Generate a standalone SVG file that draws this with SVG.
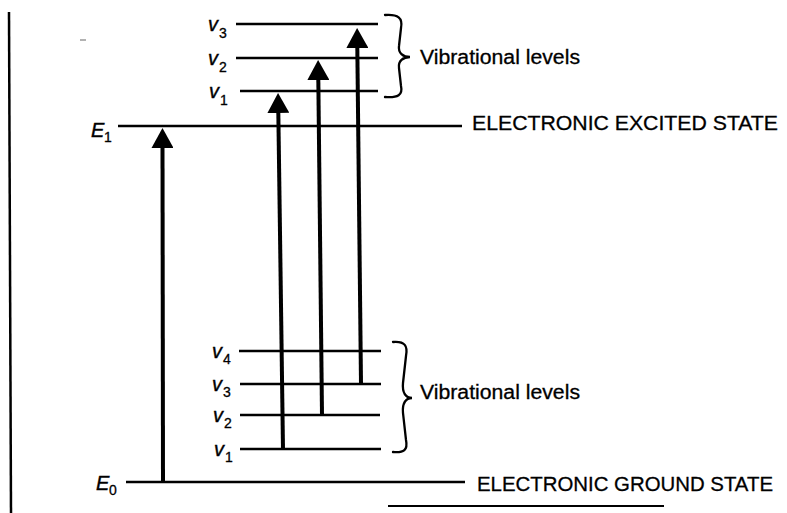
<svg xmlns="http://www.w3.org/2000/svg" width="787" height="513" viewBox="0 0 787 513">
<style>
.lvl{stroke:#000;stroke-width:2.4;fill:none}
.br{stroke:#000;stroke-width:2.3;fill:none;stroke-linecap:round}
.ar{stroke:#000;stroke-width:4;fill:none}
.v{font-family:"Liberation Sans",Arial,sans-serif;font-style:italic;font-size:20px;fill:#000;stroke:#000;stroke-width:0.4}
.sub{font-family:"Liberation Sans",Arial,sans-serif;font-size:14px;fill:#000;stroke:#000;stroke-width:0.3}
.lab{font-family:"Liberation Sans",Arial,sans-serif;font-size:21px;fill:#000;stroke:#000;stroke-width:0.3}
</style>
<defs>
<marker id="ah" markerUnits="userSpaceOnUse" viewBox="0 0 20 22" refX="2" refY="11" markerWidth="20" markerHeight="22" orient="auto">
<path d="M0,0 L20,11 L0,22 z" fill="#000"/>
</marker>
</defs>
<rect width="787" height="513" fill="#fff"/>
<line x1="9" y1="12" x2="11" y2="513" stroke="#000" stroke-width="2.5"/>
<line x1="388" y1="506" x2="664" y2="506" stroke="#000" stroke-width="2"/>
<line x1="80" y1="40" x2="86" y2="40" stroke="#999" stroke-width="1.5"/>

<g id="excited-state">
<line class="lvl" x1="118" y1="126" x2="462" y2="126"/>
<text class="v" x="91" y="137">E</text><text class="sub" x="104" y="142">1</text>
<text class="lab" x="472" y="130" textLength="306" lengthAdjust="spacingAndGlyphs">ELECTRONIC EXCITED STATE</text>
</g>

<g id="upper-vibrational">
<line class="lvl" x1="236" y1="24" x2="378" y2="24"/>
<line class="lvl" x1="236" y1="58" x2="378" y2="58"/>
<line class="lvl" x1="240" y1="91" x2="378" y2="91"/>
<text class="v" x="208" y="31">v</text><text class="sub" x="219" y="38">3</text>
<text class="v" x="208" y="65">v</text><text class="sub" x="219" y="72">2</text>
<text class="v" x="209" y="98">v</text><text class="sub" x="220" y="105">1</text>
<path class="br" d="M385,15 C398,14 403,18 401,28 L399,46 C398,53 403,57 410,57 C403,57 398,61 399,68 L401,86 C403,95 398,98 385,97"/>
<text class="lab" x="420" y="64" textLength="160" lengthAdjust="spacingAndGlyphs" style="font-size:20px">Vibrational levels</text>
</g>

<g id="ground-state">
<line class="lvl" x1="126" y1="482" x2="465" y2="482"/>
<text class="v" x="96" y="490">E</text><text class="sub" x="109" y="495">0</text>
<text class="lab" x="477" y="491" textLength="296" lengthAdjust="spacingAndGlyphs">ELECTRONIC GROUND STATE</text>
</g>

<g id="lower-vibrational">
<line class="lvl" x1="239" y1="351" x2="381" y2="351"/>
<line class="lvl" x1="240" y1="384" x2="381" y2="384"/>
<line class="lvl" x1="240" y1="415" x2="380" y2="415"/>
<line class="lvl" x1="240" y1="449" x2="381" y2="449"/>
<text class="v" x="212" y="358">v</text><text class="sub" x="223" y="364">4</text>
<text class="v" x="212" y="391">v</text><text class="sub" x="223" y="397">3</text>
<text class="v" x="213" y="422">v</text><text class="sub" x="224" y="428">2</text>
<text class="v" x="214" y="456">v</text><text class="sub" x="225" y="462">1</text>
<path class="br" d="M393,342 C405,341 408,346 406,356 L403,383 C402,393 406,398 412,398 C406,398 402,403 403,413 L406,440 C408,450 404,453 393,452"/>
<text class="lab" x="420" y="399" textLength="160" lengthAdjust="spacingAndGlyphs" style="font-size:20px">Vibrational levels</text>
</g>

<g id="connectors">
<line class="ar" x1="163" y1="482" x2="162.5" y2="146" marker-end="url(#ah)"/>
<line class="ar" x1="283" y1="449" x2="278.3" y2="111" marker-end="url(#ah)"/>
<line class="ar" x1="322" y1="415" x2="318.3" y2="78" marker-end="url(#ah)"/>
<line class="ar" x1="361" y1="384" x2="357.3" y2="46" marker-end="url(#ah)"/>
</g>
</svg>
